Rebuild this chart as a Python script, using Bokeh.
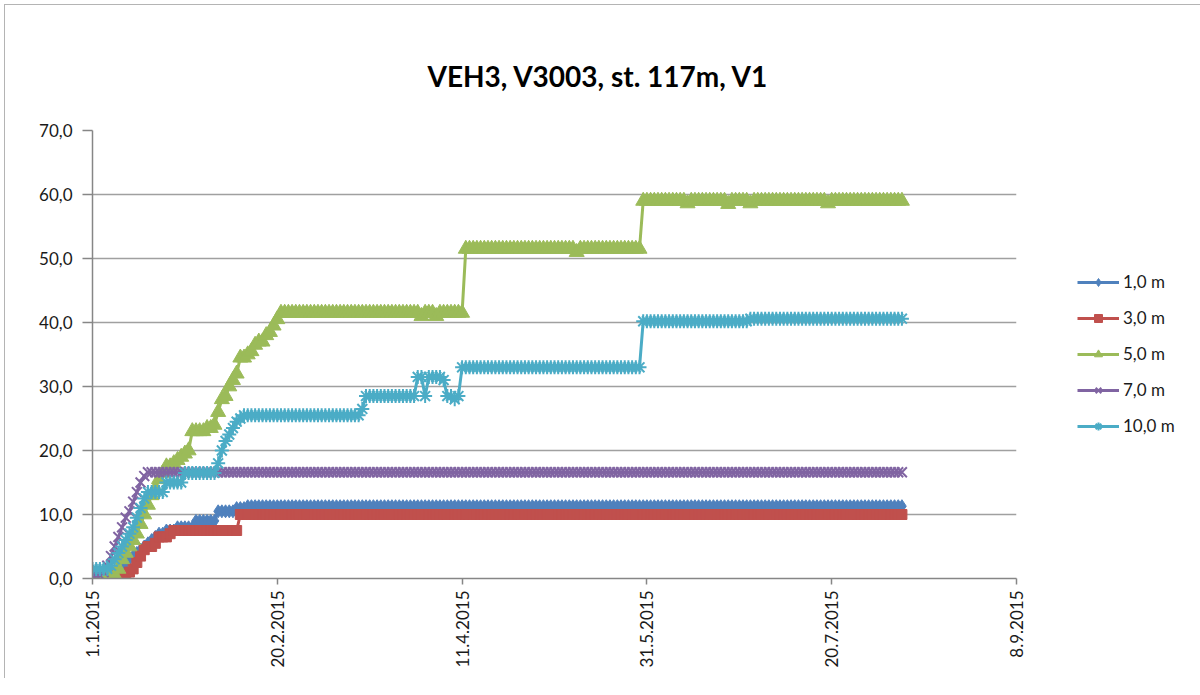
import numpy as np
from bokeh.plotting import figure
from bokeh.models import Range1d, FixedTicker, Legend, LegendItem, Title
from bokeh.embed import file_html
from bokeh.resources import INLINE

title_text = "VEH3, V3003, st. 117m, V1"

x_tick_days = [0, 50, 100, 150, 200, 250]
x_tick_labels = ["1.1.2015", "20.2.2015", "11.4.2015", "31.5.2015", "20.7.2015", "8.9.2015"]
y_ticks = [0, 10, 20, 30, 40, 50, 60, 70]
y_tick_labels = ["0,0", "10,0", "20,0", "30,0", "40,0", "50,0", "60,0", "70,0"]

series_names = ["1,0 m", "3,0 m", "5,0 m", "7,0 m", "10,0 m"]

# daily readings (days since 1.1.2015), run-length encoded: value, number of days
m1_vals = [0.8, 1.0, 1.5, 2.0, 2.5, 3.0, 3.5, 4.0, 4.5, 5.0, 5.5, 6.0, 6.5, 7.0, 7.0,
           7.5, 7.5, 7.5, 8.0, 9.0, 10.5, 11.0, 11.3]
m1_runs = [6, 1, 1, 1, 1, 1, 1, 1, 1, 1, 1, 1, 1, 1, 1,
           1, 1, 1, 5, 6, 5, 3, 178]

m3_vals = [0.0, 0.3, 0.6, 1.0, 1.5, 2.5, 3.5, 4.5, 5.0, 5.0, 5.5, 6.5, 6.5, 6.5, 7.0,
           7.5, 10.0]
m3_runs = [8, 1, 1, 1, 1, 1, 1, 1, 1, 1, 1, 1, 1, 1, 1,
           18, 180]

m5_vals = [0.0, 0.5, 1.5, 3.0, 4.0, 5.0, 6.0, 7.0, 8.5, 10.0, 11.5, 13.0, 14.0, 15.5,
           16.5, 17.5, 17.5, 18.0, 18.5, 19.0, 19.5, 20.0,
           23.0, 23.0, 23.0, 23.0, 23.5, 23.5, 24.0, 26.0, 28.0, 28.5, 30.0, 31.0, 32.0,
           34.5, 34.5, 35.0, 35.5, 36.5, 37.0, 37.0, 38.0, 38.5, 39.5, 40.5,
           41.5, 41.0, 41.5, 41.0, 41.5,
           51.5, 51.0, 51.5,
           59.0, 58.6, 59.0, 58.5, 59.0, 58.6, 59.0, 58.6, 59.0]
m5_runs = [6, 1, 1, 1, 1, 1, 1, 1, 1, 1, 1, 1, 1, 1,
           1, 1, 1, 1, 1, 1, 1, 1,
           1, 1, 1, 1, 1, 1, 1, 1, 1, 1, 1, 1, 1,
           1, 1, 1, 1, 1, 1, 1, 1, 1, 1, 1,
           38, 1, 3, 1, 7,
           30, 1, 17,
           12, 1, 10, 1, 5, 1, 20, 1, 20]

m7_vals = [0.5, 1.0, 2.0, 3.5, 5.0, 6.5, 8.0, 9.5, 10.5, 12.0, 13.5, 15.0, 16.0, 16.6]
m7_runs = [3, 1, 1, 1, 1, 1, 1, 1, 1, 1, 1, 1, 1, 205]

m10_vals = [1.5, 2.0, 3.0, 4.0, 5.0, 6.0, 7.0, 8.0, 9.5, 11.0, 12.5,
            13.5, 15.0, 16.5, 18.0, 20.0, 21.5, 22.5, 23.5, 24.5, 25.0,
            25.5, 26.5, 28.5, 31.5, 28.5, 31.5, 31.0, 28.5, 28.0, 28.5,
            33.0, 40.2, 40.6]
m10_runs = [5, 1, 1, 1, 1, 1, 1, 1, 1, 1, 1,
            5, 5, 9, 1, 1, 1, 1, 1, 1, 1,
            32, 1, 14, 2, 1, 4, 1, 2, 1, 1,
            49, 29, 42]

series_vals = [m1_vals, m3_vals, m5_vals, m7_vals, m10_vals]
series_runs = [m1_runs, m3_runs, m5_runs, m7_runs, m10_runs]

colors = ["#4F81BD", "#C0504D", "#9BBB59", "#8064A2", "#4BACC6"]
markers = ["diamond", "square", "triangle", "x", "asterisk"]
msizes = [13, 10, 15, 14, 14]

FONT = "Lato"

p = figure(frame_width=924, frame_height=448, output_backend="svg", toolbar_location=None,
           x_range=Range1d(0, 250), y_range=Range1d(0, 70),
           min_border_left=87, min_border_right=160, min_border_top=125, min_border_bottom=100,
           styles={"border-top": "1px solid #b4b4b4", "border-left": "1px solid #b4b4b4",
                   "margin-left": "4px", "margin-top": "4px"})
p.outline_line_color = None
p.background_fill_color = "white"
p.border_fill_color = "white"

p.xgrid.visible = False
p.ygrid.ticker = FixedTicker(ticks=y_ticks)
p.ygrid.grid_line_color = "#a0a0a0"
p.ygrid.grid_line_width = 1.5

p.xaxis.ticker = FixedTicker(ticks=x_tick_days)
p.xaxis.major_label_overrides = {d: l for d, l in zip(x_tick_days, x_tick_labels)}
p.xaxis.major_label_orientation = np.pi / 2
p.yaxis.ticker = FixedTicker(ticks=y_ticks)
p.yaxis.major_label_overrides = {t: l for t, l in zip(y_ticks, y_tick_labels)}

for ax in (p.xaxis, p.yaxis):
    ax.axis_line_color = "#868686"
    ax.axis_line_width = 1.5
    ax.major_tick_line_color = "#868686"
    ax.major_tick_line_width = 1.5
    ax.major_tick_in = 0
    ax.minor_tick_line_color = None
    ax.major_label_text_font = FONT
    ax.major_label_text_font_size = "17px"
    ax.major_label_text_color = "#1a1a1a"
p.xaxis.major_tick_out = 6
p.xaxis.major_label_standoff = 6
p.yaxis.major_tick_out = 10
p.yaxis.major_label_standoff = 10

items = []
for name, vals, runs, c, m, s in zip(series_names, series_vals, series_runs, colors, markers, msizes):
    y = np.repeat(np.array(vals, dtype=float), np.array(runs))
    x = np.arange(len(y))
    ln = p.line(x, y, line_color=c, line_width=3)
    sc = p.scatter(x, y, marker=m, size=s, fill_color=c, line_color=c,
                   line_width=2 if m in ("x", "asterisk") else 1)
    items.append(LegendItem(label=name, renderers=[ln, sc]))

legend = Legend(items=items, location=(61, 142), margin=0, border_line_color=None,
                background_fill_alpha=0, label_text_font=FONT, label_text_font_size="17px",
                label_text_color="#1a1a1a", glyph_width=42, glyph_height=20, label_height=20,
                spacing=15, padding=10, label_standoff=4)
p.add_layout(legend, "right")

p.add_layout(Title(text=title_text, align="left", offset=335, standoff=75,
                   text_font=FONT, text_font_size="28px", text_font_style="bold",
                   text_color="#000000"), "above")

open("out.html", "w").write(file_html(p, INLINE))
